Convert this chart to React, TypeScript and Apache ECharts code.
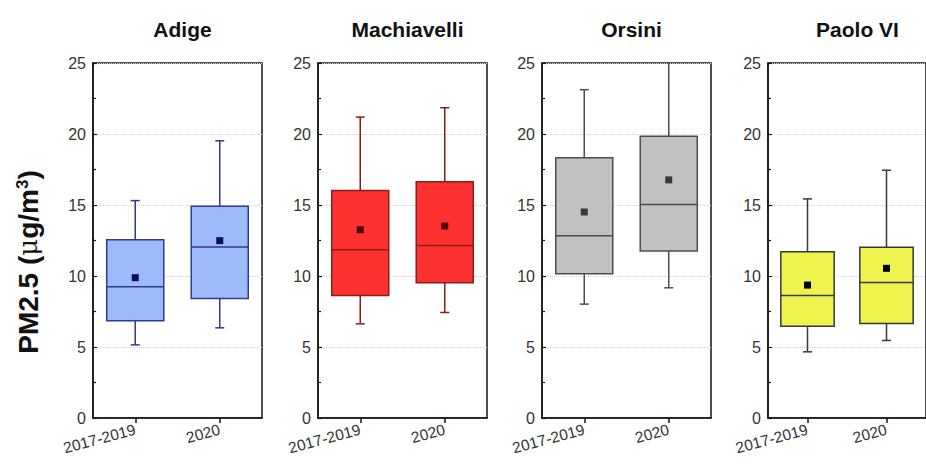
import React, { useEffect, useRef } from 'react';
import * as echarts from 'echarts';

const categories = ['2017-2019', '2020'];
const stations = ['Adige', 'Machiavelli', 'Orsini', 'Paolo VI'];
// [min whisker, Q1, median, Q3, max whisker] per period
const adigeBox = [[5.15, 6.84, 9.24, 12.56, 15.31], [6.35, 8.42, 12.04, 14.91, 19.52]];
const adigeMean = [9.88, 12.49];
const machiavelliBox = [[6.63, 8.63, 11.85, 16.02, 21.19], [7.43, 9.52, 12.14, 16.63, 21.85]];
const machiavelliMean = [13.26, 13.52];
const orsiniBox = [[8.02, 10.16, 12.84, 18.32, 23.12], [9.17, 11.76, 15.03, 19.85, 26.5]];
const orsiniMean = [14.51, 16.77];
const paoloBox = [[4.66, 6.47, 8.63, 11.71, 15.43], [5.46, 6.66, 9.55, 12.02, 17.45]];
const paoloMean = [9.36, 10.54];
const yMin = 0;
const yMax = 25;
const yInterval = 5;

const boxes = [adigeBox, machiavelliBox, orsiniBox, paoloBox];
const means = [adigeMean, machiavelliMean, orsiniMean, paoloMean];

const fills = ['#9dbafa', '#fe3131', '#c1c1c1', '#eef34e'];
const strokes = ['#2f3b8e', '#8a1c1c', '#4d4d4d', '#383838'];
const meanColors = ['#0c0c66', '#500000', '#3a3a3a', '#000000'];
const gridLefts = [93, 318, 542, 768];
const GRID_TOP = 63;
const GRID_H = 355;
const GRID_W = 169;
const FONT = '"Liberation Sans", Arial, Helvetica, sans-serif';

export default function App() {
  const ref = useRef<HTMLDivElement>(null);
  useEffect(() => {
    if (!ref.current) return;
    const chart = echarts.init(ref.current, undefined, { renderer: 'svg' });
    const grids = gridLefts.map((l) => ({
      left: l, top: GRID_TOP, width: GRID_W, height: GRID_H,
      show: true, borderColor: '#151515', borderWidth: 1.5, backgroundColor: 'transparent',
    }));
    const xAxes = stations.map((_, i) => ({
      type: 'category', gridIndex: i, data: categories,
      axisLine: { show: true, lineStyle: { color: '#151515', width: 1.5 } },
      axisTick: { show: true, alignWithLabel: true, interval: 0, length: 5, lineStyle: { color: '#151515', width: 1.5 } },
      axisLabel: { rotate: 15, interval: 0, hideOverlap: false, fontSize: 15.5, color: '#333', margin: 11, fontFamily: FONT },
      splitLine: { show: false },
    }));
    const yAxes = stations.map((_, i) => ({
      type: 'value', gridIndex: i, min: yMin, max: yMax, interval: yInterval,
      axisLine: { show: true, lineStyle: { color: '#151515', width: 1.5 } },
      axisTick: { show: true, inside: true, length: 4, lineStyle: { color: '#151515', width: 1.2 } },
      minorTick: { show: true, splitNumber: 2, length: 3, lineStyle: { color: '#151515', width: 1.2 } },
      axisLabel: { fontSize: 16, color: '#333', margin: 7, fontFamily: FONT },
      splitLine: { show: true, lineStyle: { color: '#d4d4d4', type: 'dotted', width: 1 } },
    }));
    const series = stations.map((_, i) => ({
      type: 'custom',
      xAxisIndex: i, yAxisIndex: i,
      clip: true,
      encode: { x: 0, y: [1, 2, 3, 4, 5, 6] },
      data: boxes[i].map((b, k) => [k, ...b, means[i][k]]),
      renderItem: (params: any, api: any) => {
        const c = api.value(0);
        const ys = [1, 2, 3, 4, 5].map((d) => api.coord([c, api.value(d)])[1]);
        const cx = api.coord([c, 0])[0];
        const bw = api.size([1, 0])[0] * 0.675;
        const m = api.coord([c, api.value(6)]);
        const ls = { stroke: strokes[i], lineWidth: 1.5 };
        const cap = 4.5;
        return {
          type: 'group',
          children: [
            { type: 'line', shape: { x1: cx, y1: ys[3], x2: cx, y2: ys[4] }, style: ls },
            { type: 'line', shape: { x1: cx, y1: ys[1], x2: cx, y2: ys[0] }, style: ls },
            { type: 'line', shape: { x1: cx - cap, y1: ys[4], x2: cx + cap, y2: ys[4] }, style: ls },
            { type: 'line', shape: { x1: cx - cap, y1: ys[0], x2: cx + cap, y2: ys[0] }, style: ls },
            { type: 'rect', shape: { x: cx - bw / 2, y: ys[3], width: bw, height: ys[1] - ys[3] },
              style: { fill: fills[i], stroke: strokes[i], lineWidth: 1.5 } },
            { type: 'line', shape: { x1: cx - bw / 2, y1: ys[2], x2: cx + bw / 2, y2: ys[2] }, style: ls },
            { type: 'rect', shape: { x: m[0] - 3.5, y: m[1] - 3.5, width: 7, height: 7 },
              style: { fill: meanColors[i] } },
          ],
        };
      },
    }));
    const titles = stations.map((s, i) => ({
      text: s, left: gridLefts[i] + GRID_W / 2, top: 14, textAlign: 'center',
      textStyle: { fontSize: 21, fontWeight: 'bold', color: '#111', fontFamily: FONT },
    }));
    chart.setOption({
      animation: false,
      backgroundColor: '#ffffff',
      title: titles,
      grid: grids,
      xAxis: xAxes,
      yAxis: yAxes,
      series,
      graphic: [
        {
          type: 'text', x: 28, y: 262, rotation: Math.PI / 2,
          style: {
            text: '{a|PM2.5 (}{b|μ}{a|g/m}{c|3}{a|)}',
            align: 'center', verticalAlign: 'middle',
            rich: {
              a: { fontSize: 28, fontWeight: 'bold', fontFamily: FONT, fill: '#111', color: '#111' },
              b: { fontSize: 26, fontWeight: 'normal', fontFamily: '"DejaVu Serif", serif', fill: '#111', color: '#111' },
              c: { fontSize: 17, fontWeight: 'bold', fontFamily: FONT, verticalAlign: 'top', fill: '#111', color: '#111' },
            },
          },
        },
      ],
    });
    return () => chart.dispose();
  }, []);
  return <div ref={ref} style={{ position: 'absolute', left: 0, top: 0, width: 926, height: 464 }} />;
}
